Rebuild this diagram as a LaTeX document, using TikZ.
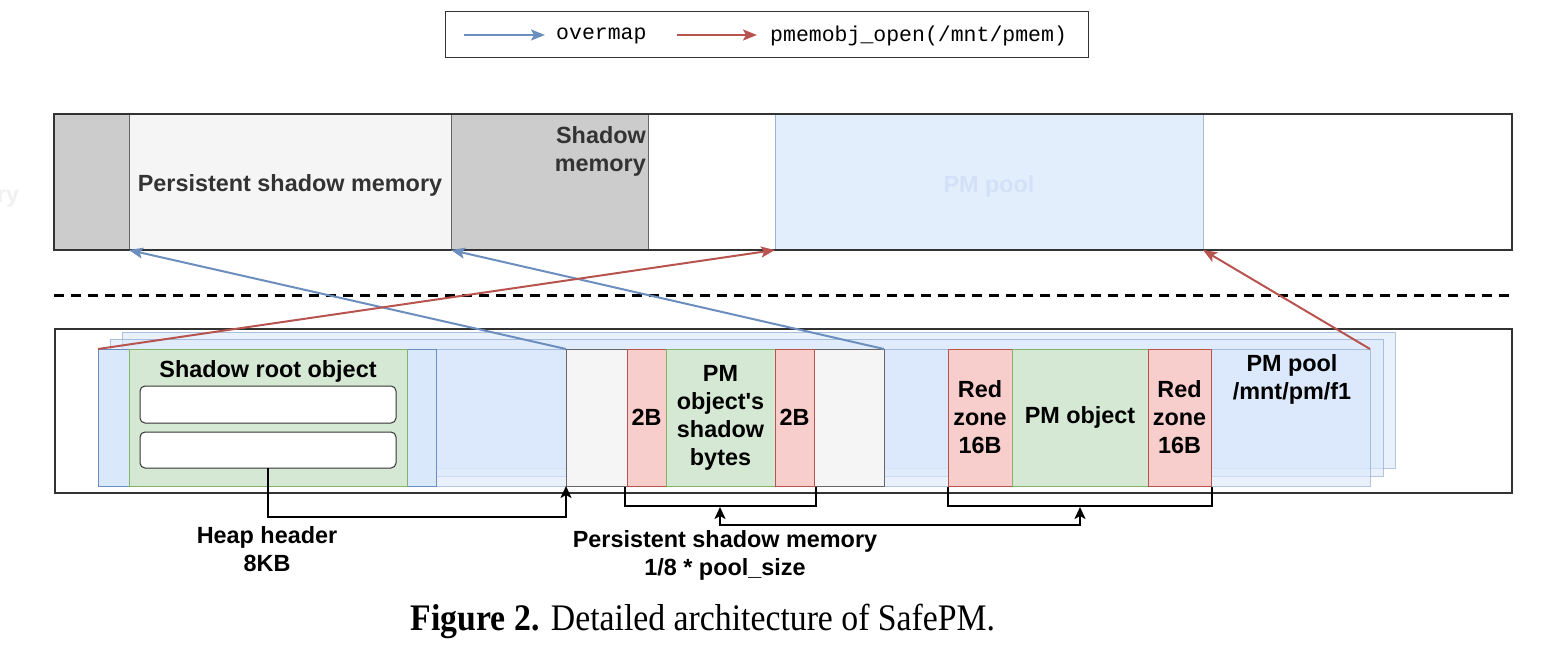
\documentclass[tikz,border=0pt]{standalone}
\usepackage{fontspec}
\newfontfamily\hv{Liberation Sans}
\newfontfamily\mono{Liberation Mono}
\newfontfamily\capserif{Liberation Serif}[FakeStretch=0.9]
\usetikzlibrary{arrows.meta}
\definecolor{bfill}{HTML}{DAE8FC}
\definecolor{bline}{HTML}{6C8EBF}
\definecolor{gfill}{HTML}{D5E8D4}
\definecolor{gline}{HTML}{82B366}
\definecolor{rfill}{HTML}{F8CECC}
\definecolor{rline}{HTML}{B85450}
\definecolor{lgray}{HTML}{F5F5F5}
\definecolor{dgray}{HTML}{CCCCCC}
\definecolor{mgray}{HTML}{666666}
\definecolor{ink}{HTML}{333333}
\definecolor{ghost}{HTML}{D2E1F7}
\newcommand\lbl{\hv\bfseries\fontsize{23.4}{28}\selectfont}
\newcommand\rnode[7]{\node[rbox,#6,minimum width={(#4-#2)*1pt},minimum height={(#5-#3)*1pt}] (#1) at ({(#2+#4)/2},{(#3+#5)/2}) {#7};}
\tikzset{
  rbox/.style={inner sep=0pt, outer sep=0pt, align=center, font=\lbl},
  graybox/.style={fill=dgray, draw=mgray, line width=1pt},
  lightbox/.style={fill=lgray, draw=mgray, line width=1pt},
  bluebox/.style={fill=bfill, draw=bline, line width=1pt},
  page/.style={fill=bfill, fill opacity=0.6, draw=bline, draw opacity=0.5, line width=1pt},
  greenbox/.style={fill=gfill, draw=gline, line width=1pt},
  redbox/.style={fill=rfill, draw=rline, line width=1pt},
  frame/.style={draw=ink, line width=1.5pt},
  slot/.style={fill=white, draw=ink, line width=1pt, rounded corners=5pt},
  txt/.style={inner sep=0pt, align=center, font=\lbl},
  overmaparrow/.style={draw=bline, line width=2pt, -{Stealth[length=14pt,width=11pt,inset=3pt]}},
  openarrow/.style={draw=rline, line width=2pt, -{Stealth[length=14pt,width=11pt,inset=3pt]}},
  blackline/.style={draw=black, line width=2.2pt},
  blackarrow/.style={blackline, -{Stealth[length=12pt,width=11pt,inset=3pt]}},
}
\begin{document}
\begin{tikzpicture}[x=1pt,y=-1pt]
\useasboundingbox (0,0) rectangle (1552,658);
% legend
\rnode{legend}{445}{12}{1088}{58}{draw=ink, line width=1pt}{}
\coordinate (lb1) at (464,35); \coordinate (lb2) at (545,35);
\coordinate (lr1) at (677,35); \coordinate (lr2) at (757,35);
\draw[overmaparrow] (lb1) -- (lb2);
\draw[openarrow] (lr1) -- (lr2);
\node[inner sep=0pt, anchor=west, font=\mono\fontsize{21.5}{24}\selectfont] (legb) at (556,36) {overmap};
\node[inner sep=0pt, anchor=west, font=\mono\fontsize{21.5}{24}\selectfont] (legr) at (770,36) {pmemobj\_open(/mnt/pmem)};
% top (virtual memory)
\node[txt, text=black!6] (ghosttext) at (8,199) {ry};
\rnode{t1}{54}{114}{129}{250}{graybox}{}
\rnode{t2}{129}{114}{451}{250}{lightbox}{}
\node[txt, text=ink] (t2text) at (290,185) {Persistent shadow memory};
\rnode{t3}{451}{114}{648}{250}{graybox}{}
\node[txt, text=ink, anchor=north east, align=right] (t3text) at (646,126) {Shadow\\memory};
\rnode{t4}{775}{114}{1203}{250}{bluebox, fill opacity=0.75, draw opacity=0.6}{}
\node[txt, text=ghost] (t4text) at (989,186) {PM pool};
\rnode{tbox}{54}{114}{1512}{250}{frame}{}
% dashed separator
\coordinate (d1) at (54,295); \coordinate (d2) at (1512,295);
\draw[line width=3pt, dash pattern=on 10pt off 7pt] (d1) -- (d2);
% bottom (persistent memory)
\rnode{bbox}{55}{329}{1512}{493}{frame}{}
\rnode{p3}{122}{332}{1395}{468}{page}{}
\rnode{p2}{110}{339}{1383}{476}{page}{}
\rnode{p1}{98}{349}{1370}{486}{page}{}
\rnode{hdr}{98}{349}{436}{486}{bluebox}{}
\rnode{sro}{129}{349}{407}{486}{greenbox}{}
\node[txt] (srotext) at (268,371) {Shadow root object};
\rnode{slot1}{140}{386}{396}{423}{slot}{}
\rnode{slot2}{140}{432}{396}{468}{slot}{}
\rnode{psm}{566}{349}{884}{486}{lightbox}{}
\rnode{s1}{627}{349}{666}{486}{redbox}{2B}
\rnode{s2}{666}{349}{775}{486}{greenbox}{PM\\object\textquotesingle s\\shadow\\bytes}
\rnode{s3}{775}{349}{814}{486}{redbox}{2B}
\rnode{o1}{948}{349}{1012}{486}{redbox}{Red\\zone\\16B}
\rnode{o2}{1012}{349}{1148}{486}{greenbox}{PM object}
\rnode{o3}{1148}{349}{1211}{486}{redbox}{Red\\zone\\16B}
\node[txt] (pooltext) at (1292,379) {PM pool\\/mnt/pm/f1};
% brackets
\coordinate (b1a) at (625,487); \coordinate (b1b) at (816,487); \coordinate (b1m) at (720,507);
\coordinate (b2a) at (948,487); \coordinate (b2b) at (1212,487); \coordinate (b2m) at (1080,507);
\draw[blackline] (b1a) -- (625,506) -- (816,506) -- (b1b);
\draw[blackline] (b2a) -- (948,506) -- (1212,506) -- (b2b);
\draw[blackarrow, {Stealth[length=12pt,width=11pt,inset=3pt]}-{Stealth[length=12pt,width=11pt,inset=3pt]}] (b1m) -- (720,525) -- (1080,525) -- (b2m);
% heap header link
\draw[blackarrow] (slot2.south) -- (268,517) -- (566,517) -- (psm.south west);
\node[txt] (heaptext) at (267,549) {Heap header\\8KB};
\node[txt] (psmtext) at (725,555) {Persistent shadow memory\\1/8 * pool\_size};
% mapping arrows
\draw[overmaparrow] (psm.north west) -- (t2.south west);
\draw[overmaparrow] (psm.north east) -- (t3.south west);
\draw[openarrow] (p1.north west) -- (t4.south west);
\draw[openarrow] (p1.north east) -- (t4.south east);
% caption
\node[inner sep=0pt, font=\capserif\fontsize{37.5}{42}\selectfont] (caption) at (703,621) {\textbf{Figure 2.} Detailed architecture of SafePM.};
\end{tikzpicture}
\end{document}
